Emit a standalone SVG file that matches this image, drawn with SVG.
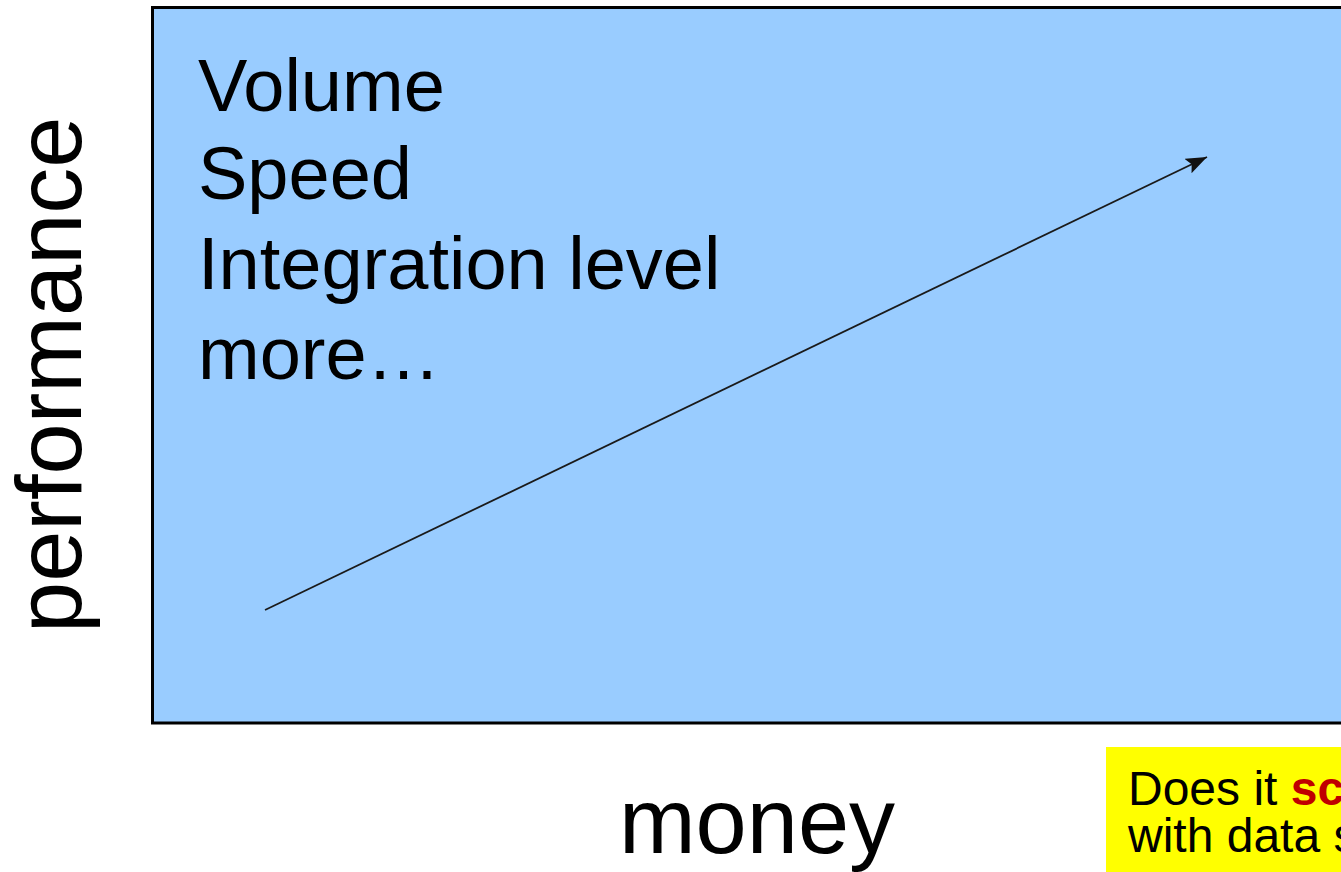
<svg xmlns="http://www.w3.org/2000/svg" width="1341" height="872" viewBox="0 0 1341 872">
  <style>
    .sans { font-family: "Liberation Sans", Arial, sans-serif; fill: #000; }
    .item { font-size: 74px; }
    .axis { font-size: 92px; }
    .note { font-size: 48px; }
    .hot { font-weight: bold; fill: #C00000; }
  </style>
  <defs>
    <marker id="head" markerUnits="userSpaceOnUse" markerWidth="24" markerHeight="18" refX="21" refY="8" orient="auto">
      <path d="M0,0 L21,8 L0,16 L4,8 z" fill="#111"/>
    </marker>
  </defs>

  <rect width="1341" height="872" fill="#fff"/>

  <!-- chart area -->
  <g id="plot">
    <rect x="152.5" y="7.5" width="1200" height="715.5" fill="#99CCFF" stroke="#000" stroke-width="3"/>
    <text class="sans item" x="198" y="111">Volume</text>
    <text class="sans item" x="198" y="199">Speed</text>
    <text class="sans item" x="198" y="289">Integration level</text>
    <text class="sans item" x="198" y="379">more…</text>
  </g>

  <!-- axis labels -->
  <g id="y-axis-label">
    <text class="sans axis" transform="translate(81,633) rotate(-90)">performance</text>
  </g>
  <g id="x-axis-label">
    <text class="sans axis" x="757" y="853" text-anchor="middle">money</text>
  </g>

  <!-- trend arrow -->
  <g id="connectors">
    <line x1="265" y1="610" x2="1207" y2="157" stroke="#1a1a1a" stroke-width="1.8" marker-end="url(#head)"/>
  </g>

  <!-- callout -->
  <g id="callout">
    <rect x="1106" y="747" width="300" height="200" fill="#FFFF00"/>
    <text class="sans note" x="1128" y="805">Does it <tspan class="hot">sc</tspan></text>
    <text class="sans note" x="1128" y="852">with data s</text>
  </g>
</svg>
